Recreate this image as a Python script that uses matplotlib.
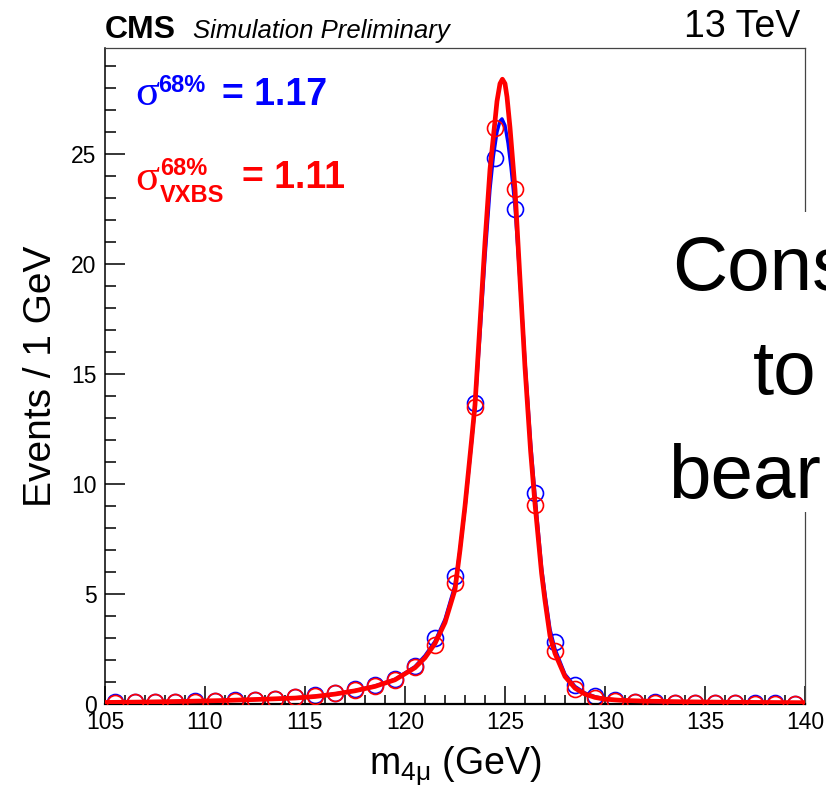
import numpy as np
import matplotlib
matplotlib.use("Agg")
import matplotlib.pyplot as plt
from matplotlib.ticker import MultipleLocator
from matplotlib.patches import Rectangle

plt.rcParams['font.family'] = ['Liberation Sans', 'DejaVu Sans']
plt.rcParams['mathtext.fontset'] = 'custom'
plt.rcParams['mathtext.rm'] = 'Liberation Sans'
plt.rcParams['mathtext.it'] = 'Liberation Sans:italic'
plt.rcParams['mathtext.bf'] = 'Liberation Sans:bold'

# binned MC points (bin centres, 1 GeV bins)
bins = np.arange(105.5, 140.0, 1.0)
blue_pts = [0.08, 0.09, 0.10, 0.11, 0.12, 0.14, 0.16, 0.20, 0.24, 0.31,
            0.40, 0.52, 0.66, 0.87, 1.15, 1.75, 3.0, 5.8, 13.7, 24.8,
            22.5, 9.6, 2.8, 0.85, 0.38, 0.16, 0.10, 0.07, 0.05, 0.04,
            0.04, 0.03, 0.03, 0.03, 0.02]
red_pts = [0.06, 0.07, 0.08, 0.09, 0.11, 0.13, 0.15, 0.19, 0.23, 0.30,
           0.38, 0.50, 0.64, 0.84, 1.08, 1.68, 2.7, 5.5, 13.5, 26.2,
           23.4, 9.05, 2.4, 0.70, 0.28, 0.13, 0.08, 0.05, 0.04, 0.03,
           0.03, 0.03, 0.02, 0.02, 0.02]

# fitted curves
blue_fx = [105, 107, 109, 111, 113, 114.5, 115.5, 116.5, 117.5, 118.5,
           119.5, 120.5, 121.0, 121.5, 122.0, 122.5, 122.75, 123.0, 123.33,
           123.5, 123.75, 124.0, 124.25, 124.42, 124.6, 124.75, 124.85,
           125.0, 125.15, 125.3, 125.5, 125.75, 126.0, 126.28, 126.5,
           126.83, 127.0, 127.25, 127.5, 128.0, 128.5, 129.0, 129.5, 130.0,
           130.75, 132.0, 134.0, 136.0, 138.0, 140.0]
blue_fy = [0.07, 0.09, 0.12, 0.16, 0.22, 0.28, 0.35, 0.46, 0.61, 0.82,
           1.12, 1.7, 2.2, 2.85, 3.85, 5.4, 7.0, 8.9, 11.9,
           13.5, 16.8, 20.3, 23.4, 24.9, 26.0, 26.5, 26.6,
           26.3, 25.5, 24.4, 22.6, 19.2, 15.6, 11.9, 9.5,
           6.2, 5.0, 3.4, 2.5, 1.35, 0.8, 0.5, 0.33, 0.24,
           0.17, 0.12, 0.08, 0.06, 0.05, 0.04]
red_fx = [105, 107, 109, 111, 113, 114.5, 115.5, 116.5, 117.5, 118.5,
          119.5, 120.5, 121.0, 121.5, 122.0, 122.5, 122.75, 123.0, 123.33,
          123.5, 123.75, 124.0, 124.25, 124.5, 124.6, 124.75, 124.87,
          125.0, 125.1, 125.25, 125.5, 125.75, 126.0, 126.28, 126.5,
          126.83, 127.0, 127.25, 127.5, 128.0, 128.5, 129.0, 129.5, 130.0,
          130.75, 132.0, 134.0, 136.0, 138.0, 140.0]
red_fy = [0.07, 0.09, 0.12, 0.16, 0.22, 0.27, 0.34, 0.45, 0.6, 0.8,
          1.1, 1.65, 2.1, 2.75, 3.7, 5.2, 7.0, 9.0, 12.0,
          13.6, 17.3, 21.0, 24.3, 26.5, 27.4, 28.2, 28.4,
          28.2, 27.6, 26.2, 23.4, 19.3, 15.3, 11.5, 9.1,
          5.94, 4.7, 3.1, 2.3, 1.25, 0.72, 0.45, 0.3, 0.22,
          0.17, 0.13, 0.1, 0.08, 0.07, 0.06]

W, H = 826, 789
fig = plt.figure(figsize=(W / 100, H / 100), dpi=100)
ax = fig.add_axes([105 / W, 1 - 704 / H, 700 / W, 656 / H])

def fx(px): return px / W
def fy(py): return 1 - py / H

ax.plot(bins, blue_pts, 'o', ms=11.5, mfc='none', mec='#0000ff', mew=1.2, zorder=2)
ax.plot(blue_fx, blue_fy, '-', color='#0000ff', lw=2.4, zorder=3)
ax.plot(bins, red_pts, 'o', ms=11.5, mfc='none', mec='#ff0000', mew=1.2, zorder=4)
ax.plot(red_fx, red_fy, '-', color='#ff0000', lw=3.4, zorder=5)

ax.set_xlim(105, 140)
ax.set_ylim(0, 29.82)
ax.xaxis.set_major_locator(MultipleLocator(5))
ax.xaxis.set_minor_locator(MultipleLocator(1))
ax.yaxis.set_major_locator(MultipleLocator(5))
ax.yaxis.set_minor_locator(MultipleLocator(1))
ax.tick_params(which='both', direction='in', top=False, right=False, width=1.1)
ax.tick_params(axis='x', which='major', length=13, pad=5, labelsize=16.5)
ax.tick_params(axis='x', which='minor', length=6.5)
ax.tick_params(axis='y', which='major', length=14.5, pad=6, labelsize=16.5)
ax.tick_params(axis='y', which='minor', length=8)
for s in ['top', 'right']:
    ax.spines[s].set_linewidth(0.9)
    ax.spines[s].set_color('#444444')
ax.spines['left'].set_linewidth(1.1)
ax.spines['bottom'].set_linewidth(1.6)

ax.set_xlabel(r'm$_{\mathregular{4\mu}}$ (GeV)', fontsize=27, labelpad=8)
ax.set_ylabel('Events / 1 GeV', fontsize=28, labelpad=9)

# header
fig.text(fx(105), fy(38), 'CMS', fontsize=23, fontweight='bold', va='baseline')
fig.text(fx(193), fy(38), 'Simulation Preliminary', fontsize=18.5, style='italic', va='baseline')
fig.text(fx(800), fy(37), '13 TeV', fontsize=27, ha='right', va='baseline')

# resolution labels
blue = '#0000ff'
red = '#ff0000'
fig.text(fx(135), fy(105), 'σ', family='Liberation Serif', fontsize=32, color=blue, va='baseline')
fig.text(fx(158), fy(92), '68%', fontsize=17, fontweight='bold', color=blue, va='baseline')
fig.text(fx(222), fy(105), '= 1.17', fontsize=27, fontweight='bold', color=blue, va='baseline')
fig.text(fx(135), fy(190), 'σ', family='Liberation Serif', fontsize=32, color=red, va='baseline')
fig.text(fx(160), fy(175), '68%', fontsize=17, fontweight='bold', color=red, va='baseline')
fig.text(fx(160), fy(202), 'VXBS', fontsize=17, fontweight='bold', color=red, va='baseline')
fig.text(fx(242), fy(188), '= 1.11', fontsize=27, fontweight='bold', color=red, va='baseline')

# overlaid slide text
fig.patches.append(Rectangle((fx(640), fy(512)), 1 - fx(640), (512 - 212) / H,
                             transform=fig.transFigure, facecolor='white',
                             edgecolor='none', zorder=10))
fig.text(fx(672), fy(290), 'Cons', fontsize=55, va='baseline', zorder=11)
fig.text(fx(753), fy(394), 'to', fontsize=55, va='baseline', zorder=11)
fig.text(fx(668), fy(498), 'bear', fontsize=55, va='baseline', zorder=11)

fig.savefig('out.png', dpi=100)
